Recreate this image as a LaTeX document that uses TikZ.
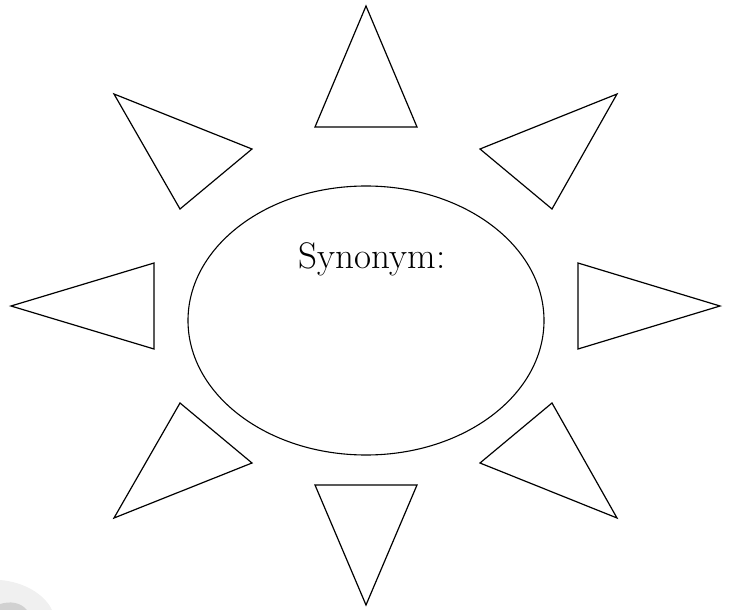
\documentclass[tikz,border=0pt]{standalone}
\usepackage{fontspec}
\begin{document}
\begin{tikzpicture}[x=1pt,y=-1pt,
  ray/.style={draw=black,line width=1.2pt,line join=miter},
  sunbody/.style={draw=black,line width=1.1pt}]
\useasboundingbox (0,0) rectangle (734,610);
\fill[black!6] (0,580) .. controls (25,582) and (45,595) .. (52,610) -- (0,610) -- cycle;
\fill[black!18] (0,604) .. controls (10,601) and (20,602) .. (27,610) -- (0,610) -- cycle;
\draw[sunbody] (366,320.5) ellipse [x radius=178, y radius=134.5];
\node[font=\fontsize{37}{42}\selectfont, anchor=base, inner sep=0pt] (label) at (372,268) {Synonym:};
% top
\draw[ray] (366,6) -- (315,127) -- (417,127) -- cycle;
% bottom
\draw[ray] (366,605) -- (315,485) -- (417,485) -- cycle;
% left
\draw[ray] (11,306) -- (154,263) -- (154,349) -- cycle;
% right
\draw[ray] (720,306) -- (578,263) -- (578,349) -- cycle;
% top-left
\draw[ray] (114,94) -- (252,149) -- (180,209) -- cycle;
% top-right
\draw[ray] (617,94) -- (480,149) -- (552,209) -- cycle;
% bottom-left
\draw[ray] (114,518) -- (252,463) -- (180,403) -- cycle;
% bottom-right
\draw[ray] (617,518) -- (480,463) -- (552,403) -- cycle;
\end{tikzpicture}
\end{document}
